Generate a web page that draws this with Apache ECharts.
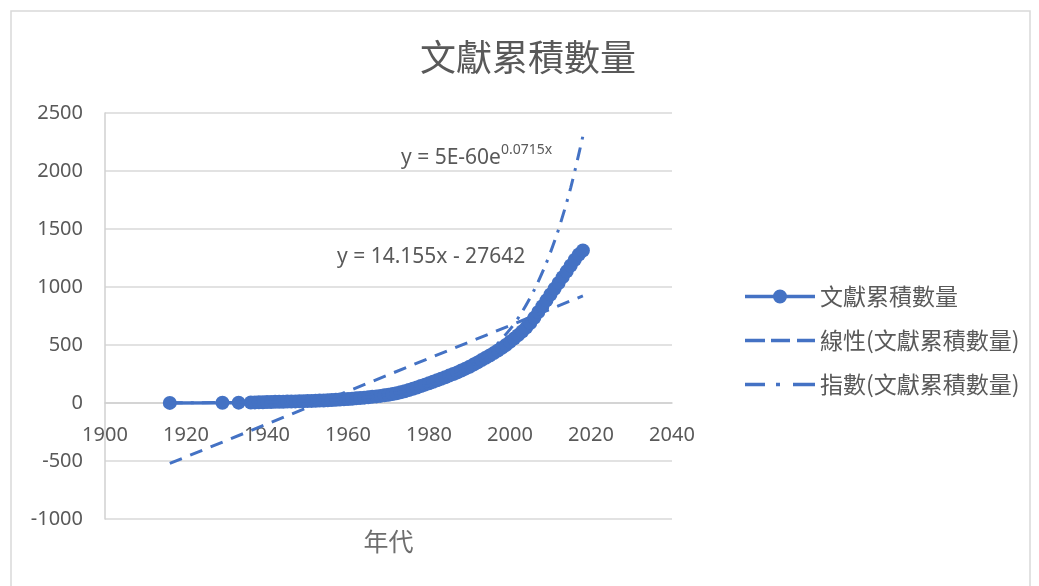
<!DOCTYPE html>
<html>
<head>
<meta charset="utf-8">
<script src="https://cdn.jsdelivr.net/npm/echarts@6/dist/echarts.min.js"></script>
<style>
html,body{margin:0;padding:0;background:#fff;}
#c{width:1039px;height:586px;}
</style>
</head>
<body>
<div id="c"></div>
<script>
// ---- data ----
var years = [1916,1929,1933,1936,1937,1938,1939,1940,1941,1942,1943,1944,1945,1946,1947,1948,1949,
  1950,1951,1952,1953,1954,1955,1956,1957,1958,1959,1960,1961,1962,1963,1964,1965,1966,1967,1968,1969,
  1970,1971,1972,1973,1974,1975,1976,1977,1978,1979,1980,1981,1982,1983,1984,1985,1986,1987,1988,1989,
  1990,1991,1992,1993,1994,1995,1996,1997,1998,1999,2000,2001,2002,2003,2004,2005,2006,2007,2008,2009,
  2010,2011,2012,2013,2014,2015,2016,2017,2018];
var counts = [1,2,3,4,5,6,7,8,9,10,10,11,12,13,14,15,16,
  17,18,20,21,22,24,26,28,30,32,34,37,40,43,46,49,53,57,61,66,
  71,77,84,92,101,111,122,134,146,158,170,183,196,209,222,236,250,264,280,296,
  313,331,350,370,390,410,430,452,475,500,527,555,585,617,650,690,735,785,835,885,
  935,985,1035,1085,1135,1185,1235,1280,1315];
// linear trendline endpoints (y = 14.155x - 27642)
var linYears = [1916, 2018];
var linValues = [-521, 923];
// exponential trendline (y = 5E-60e^0.0715x)
var expYears = [1916,1930,1940,1950,1960,1970,1980,1985,1990,1995,2000,2003,2006,2009,2012,2015,2018];
var expValues = [1.6,4.3,8.7,17.8,36,74,152,217,311,444,635,787,976,1209,1498,1857,2301];
var seriesNames = ['文獻累積數量','線性(文獻累積數量)','指數(文獻累積數量)'];
var xTicks = {min:1900, max:2040, step:20};
var yTicks = {min:-1000, max:2500, step:500};
var chartTitle = '文獻累積數量';
var xTitle = '年代';
var eqLinear = 'y = 14.155x - 27642';
var eqExpBase = 'y = 5E-60e';
var eqExpSup = '0.0715x';

function pairs(xs, ys){ return xs.map(function(x,i){ return [x, ys[i]]; }); }

var blue = '#4472C4';
var gray = '#595959';
var numFont = 'Noto Sans';
var cjkFont = 'Noto Sans CJK TC';

// legend icons (70 x 14 boxes)
var iconMarkerLine = 'path://M0,5.25h30v3.5h-30z M40,5.25h30v3.5h-30z M35,0a7,7 0 1,1 -0.01,0z';
var iconDash = 'path://M0,0h20v3.5h-20z M26,0h19v3.5h-19z M52,0h18v3.5h-18z';
var iconDashDot = 'path://M0,0h20v3.5h-20z M31,0h4v3.5h-4z M48,0h22v3.5h-22z';

var chart = echarts.init(document.getElementById('c'), null, {renderer:'canvas'});
chart.setOption({
  animation:false,
  backgroundColor:'#fff',
  grid:{left:105, top:113, width:567, height:406, containLabel:false, outerBoundsMode:'none'},
  xAxis:{
    type:'value', min:xTicks.min, max:xTicks.max, interval:xTicks.step,
    position:'bottom', offset:-116,
    axisLine:{show:true, onZero:false, lineStyle:{color:'#d0d0d0', width:1.5}},
    axisTick:{show:false},
    splitLine:{show:false},
    axisLabel:{color:gray, fontSize:20, fontFamily:numFont, margin:22, formatter:function(v){return String(v);}},
    name:xTitle, nameLocation:'middle', nameGap:126,
    nameTextStyle:{color:'#6e6e6e', fontSize:25, fontFamily:cjkFont}
  },
  yAxis:{
    type:'value', min:yTicks.min, max:yTicks.max, interval:yTicks.step,
    axisLine:{show:true, onZero:false, lineStyle:{color:'#d0d0d0', width:1.5}},
    axisTick:{show:false},
    splitLine:{show:true, lineStyle:{color:'#d9d9d9', width:1.5}},
    axisLabel:{color:gray, fontSize:20, fontFamily:numFont, margin:22, formatter:function(v){return String(v);}}
  },
  legend:{
    orient:'vertical', left:740, top:280,
    itemWidth:70, itemHeight:14, itemGap:21,
    textStyle:{color:gray, fontSize:23, fontFamily:cjkFont},
    data:[
      {name:seriesNames[0], icon:iconMarkerLine, itemStyle:{color:blue}},
      {name:seriesNames[1], icon:iconDash, itemStyle:{color:blue}},
      {name:seriesNames[2], icon:iconDashDot, itemStyle:{color:blue}}
    ]
  },
  series:[
    {
      name:seriesNames[0], type:'line', data:pairs(years, counts),
      symbol:'circle', symbolSize:14, showSymbol:true,
      lineStyle:{color:blue, width:3.5}, itemStyle:{color:blue},
      z:3
    },
    {
      name:seriesNames[1], type:'line', data:pairs(linYears, linValues),
      symbol:'none', lineStyle:{color:blue, width:3, type:[13,9]}, itemStyle:{color:blue},
      z:4
    },
    {
      name:seriesNames[2], type:'line', data:pairs(expYears, expValues),
      symbol:'none', smooth:0.3, lineStyle:{color:blue, width:3, type:[13,8,3,8]}, itemStyle:{color:blue},
      z:4
    }
  ],
  graphic:[
    {type:'rect', shape:{x:11, y:11, width:1019, height:600}, style:{fill:'none', stroke:'#d9d9d9', lineWidth:1.5}, silent:true},
    {type:'text', x:528, y:57, style:{text:chartTitle, fill:gray, font:'36px "Noto Sans CJK TC"', textAlign:'center', textVerticalAlign:'middle'}},
    {type:'text', x:337, y:257, style:{text:eqLinear, fill:gray, font:'21px "Noto Sans"', textAlign:'left', textVerticalAlign:'middle'}},
    {type:'text', x:401, y:156, style:{
      text:'{a|'+eqExpBase+'}{b|'+eqExpSup+'}',
      textAlign:'left', textVerticalAlign:'middle',
      rich:{
        a:{fill:gray, fontSize:21, fontFamily:numFont, verticalAlign:'bottom', lineHeight:26},
        b:{fill:gray, fontSize:14, fontFamily:numFont, verticalAlign:'top', lineHeight:26, padding:[0,0,10,0]}
      }
    }}
  ]
});
</script>
</body>
</html>
